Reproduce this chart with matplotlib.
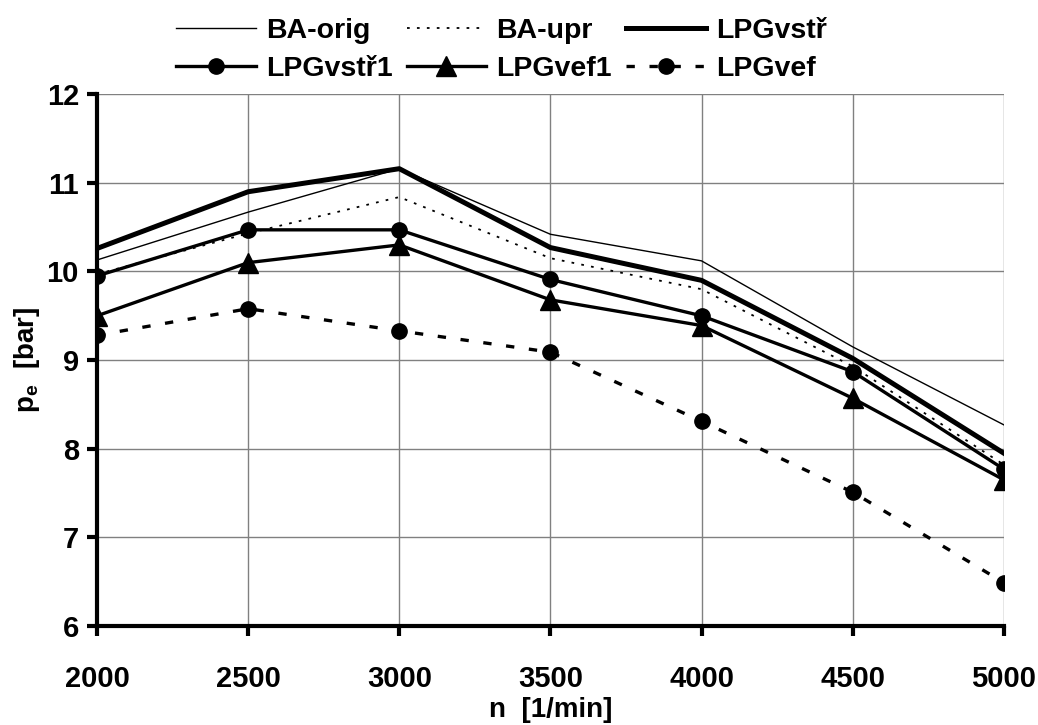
import matplotlib.pyplot as plt

plt.rcParams['font.family'] = ['Liberation Sans', 'DejaVu Sans']
plt.rcParams['font.weight'] = 'bold'
plt.rcParams['mathtext.fontset'] = 'custom'
plt.rcParams['mathtext.bf'] = 'Liberation Sans:bold'

n = [2000, 2500, 3000, 3500, 4000, 4500, 5000]
ba_orig = [10.13, 10.67, 11.16, 10.42, 10.12, 9.15, 8.27]
ba_upr = [9.97, 10.43, 10.84, 10.15, 9.80, 8.93, 7.82]
lpg_vstr = [10.26, 10.90, 11.16, 10.27, 9.90, 9.02, 7.95]
lpg_vstr1 = [9.95, 10.47, 10.47, 9.91, 9.50, 8.87, 7.77]
lpg_vef1 = [9.50, 10.10, 10.30, 9.68, 9.39, 8.57, 7.65]
lpg_vef = [9.28, 9.58, 9.33, 9.09, 8.31, 7.51, 6.49]

fig = plt.figure(figsize=(10.38, 7.25), dpi=100)
ax = fig.add_axes([0.0935, 0.1366, 0.8735, 0.7334])

h1, = ax.plot(n, ba_orig, color='black', lw=1.0, label='BA-orig')
h2, = ax.plot(n, ba_upr, color='black', lw=1.3, linestyle=(0, (1.5, 4)), label='BA-upr')
h3, = ax.plot(n, lpg_vstr, color='black', lw=3.6, label='LPGvstř')
h4, = ax.plot(n, lpg_vstr1, color='black', lw=2.4, marker='o', markersize=11, label='LPGvstř1')
h5, = ax.plot(n, lpg_vef1, color='black', lw=2.4, marker='^', markersize=14, label='LPGvef1')
h6, = ax.plot(n, lpg_vef, color='black', lw=2.4, linestyle=(0, (2.5, 4.4)), marker='o',
              markersize=11, label='LPGvef')

ax.set_xlim(2000, 5000)
ax.set_ylim(6, 12)
ax.set_xticks(n)
ax.set_yticks(range(6, 13))
ax.grid(True, color='#808080', lw=1.0)
ax.set_axisbelow(True)

for side in ['top', 'right']:
    ax.spines[side].set_visible(False)
for side in ['left', 'bottom']:
    ax.spines[side].set_linewidth(3)

ax.tick_params(axis='both', labelsize=21, width=3, length=7, direction='out')
for lbl in ax.get_xticklabels() + ax.get_yticklabels():
    lbl.set_fontweight('bold')
ax.tick_params(axis='x', pad=21)
ax.tick_params(axis='y', pad=6)

ax.set_xlabel('n  [1/min]', fontsize=20, fontweight='bold', labelpad=3)
ax.set_ylabel(r'p$_\mathbf{e}$  [bar]', fontsize=20, fontweight='bold', labelpad=3)

# legend laid out in two rows of three, filled column by column
handles = [h1, h4, h2, h5, h3, h6]
leg = fig.legend(handles, [h.get_label() for h in handles], ncol=3, frameon=False,
                 loc='center', bbox_to_anchor=(0.483, 0.931), fontsize=20.5,
                 handlelength=2.8, columnspacing=0.5, handletextpad=0.35,
                 labelspacing=0.45, borderpad=0)
for t in leg.get_texts():
    t.set_fontweight('bold')

fig.savefig('out.png', dpi=100)
